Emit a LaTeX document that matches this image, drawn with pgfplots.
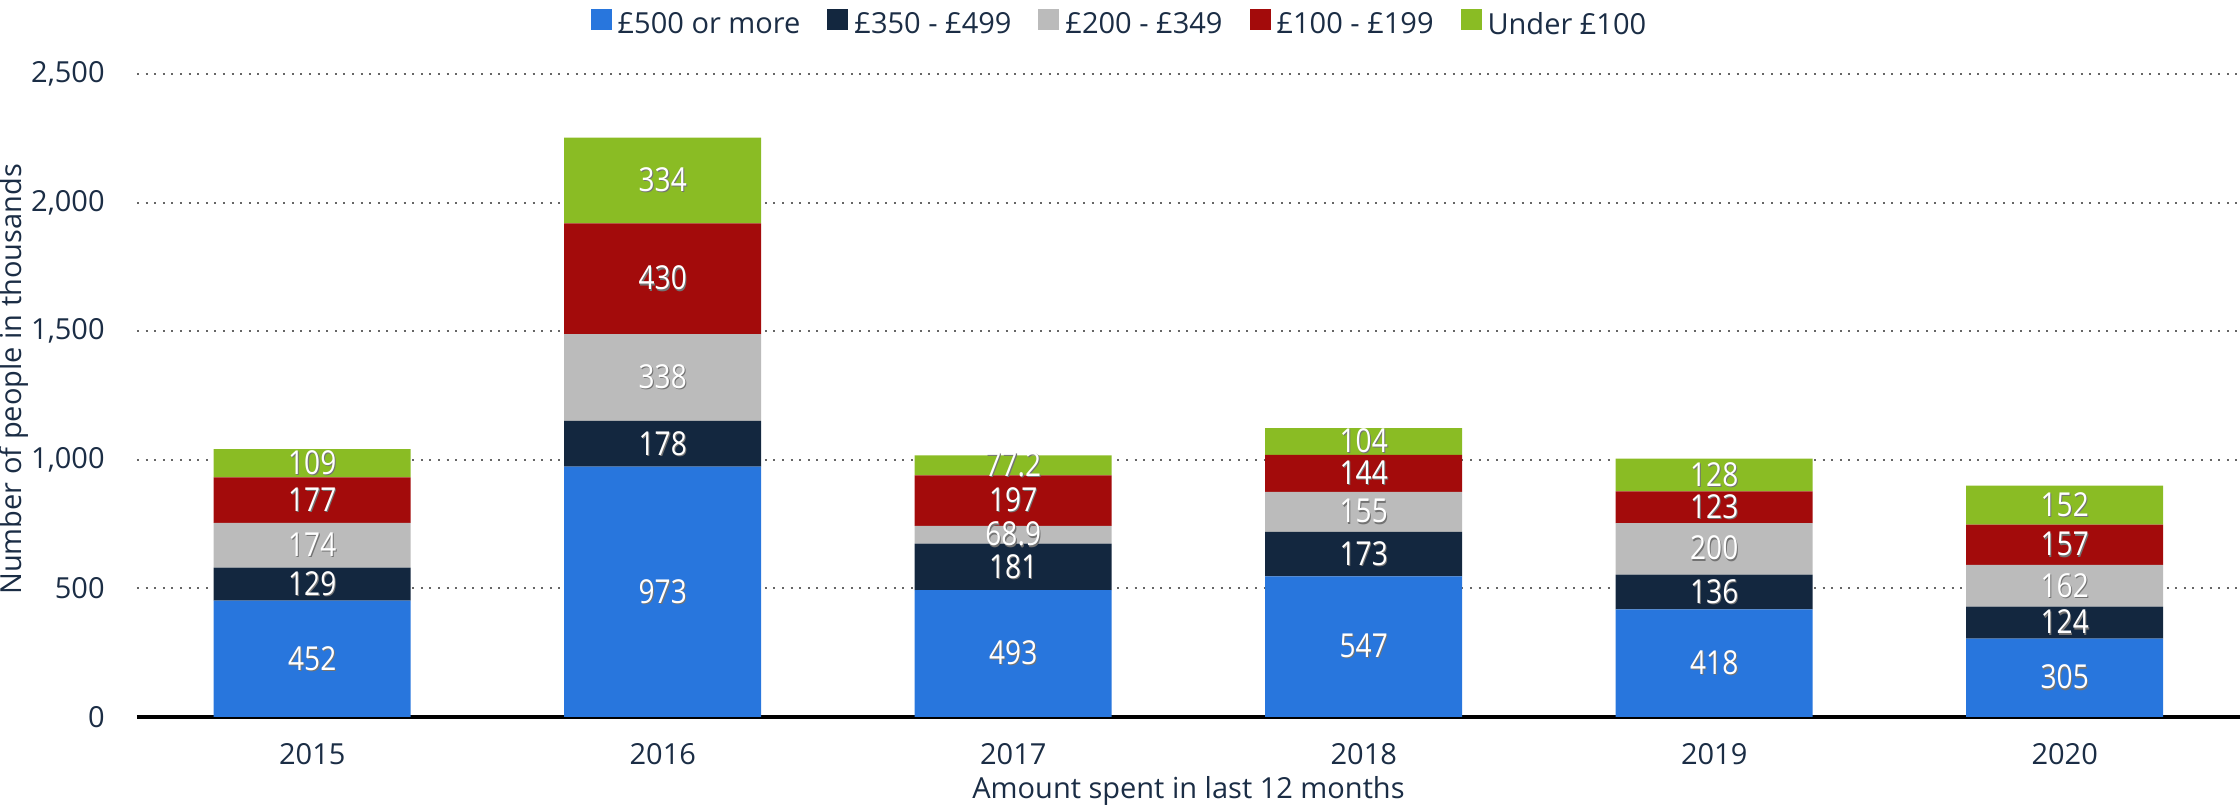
\documentclass[border=0pt]{standalone}
\usepackage{fontspec}
\setmainfont{Open Sans}
\usepackage{pgfplots}
\usepackage{pgfplotstable}
\pgfplotsset{compat=1.18}

\definecolor{cblue}{HTML}{2876DD}
\definecolor{cnavy}{HTML}{13273F}
\definecolor{cgray}{HTML}{BBBBBB}
\definecolor{cred}{HTML}{A30B0B}
\definecolor{cgreen}{HTML}{8ABC24}
\definecolor{txt}{HTML}{1B2D45}

% white value label with a small dark shadow
\newcommand{\lbl}[1]{\makebox[0pt]{\kern1.2pt\raisebox{-0.6pt}{\textcolor{black!55}{#1}}}\makebox[0pt]{\textcolor{white}{#1}}}

\pgfplotstableread{
x  a   b   c    d   e
0  452 129 174  177 109
1  973 178 338  430 334
2  493 181 68.9 197 77.2
3  547 173 155  144 104
4  418 136 200  123 128
5  305 124 162  157 152
}\spend

\begin{document}
\begin{tikzpicture}
\begin{axis}[
  scale only axis,
  width=1051.5pt, height=321.5pt,
  ybar stacked, bar width=98.5pt,
  xmin=-0.5, xmax=5.5, ymin=0, ymax=2500,
  enlargelimits=false,
  xtick=data,
  xticklabels={2015,2016,2017,2018,2019,2020},
  ytick={0,500,...,2500},
  scaled y ticks=false,
  /pgf/number format/.cd, 1000 sep={,}, assume math mode=true,
  /pgfplots/.cd,
  axis line style={draw=none},
  major tick length=0pt,
  tick label style={font=\fontsize{14.5}{16}\selectfont, text=txt},
  yticklabel style={inner sep=0pt, anchor=east, xshift=-16pt},
  xticklabel style={inner sep=0pt, anchor=north, yshift=-13pt},
  ymajorgrids,
  grid style={gray!80!black, line width=1pt, dash pattern=on 1pt off 3.3pt},
  extra y ticks={0},
  extra y tick labels={},
  extra y tick style={grid style={solid, black, line width=1.8pt}},
  xlabel={Amount spent in last 12 months},
  ylabel={Number of people in thousands},
  label style={font=\fontsize{14.5}{16}\selectfont, text=txt},
  xlabel style={at={(axis description cs:0.5,0)}, anchor=center, yshift=-37pt},
  ylabel style={at={(axis description cs:0,0.525)}, anchor=center, yshift=61.5pt},
  legend style={at={(0.4674,1)}, anchor=center, yshift=24.75pt, draw=none,
    font=\fontsize{14.5}{16}\selectfont, text=txt, inner sep=0pt,
    nodes={inner xsep=1.5pt}},
  legend columns=-1,
  legend image code/.code={\fill[#1] (0pt,-2.6pt) rectangle (10.5pt,7.9pt);},
  /tikz/every even column/.append style={column sep=12pt},
  /tikz/every odd column/.append style={column sep=1.5pt},
  point meta=rawy,
  nodes near coords={\scalebox{0.85}[1]{\lbl{\pgfmathprintnumber\pgfplotspointmeta}}},
  every node near coord/.append style={anchor=center, inner sep=0pt,
    font=\fontsize{16.5}{17}\selectfont},
]
\addplot[fill=cblue, draw=none] table[x=x, y=a] {\spend};
\addplot[fill=cnavy, draw=none] table[x=x, y=b] {\spend};
\addplot[fill=cgray, draw=none] table[x=x, y=c] {\spend};
\addplot[fill=cred, draw=none] table[x=x, y=d] {\spend};
\addplot[fill=cgreen, draw=none] table[x=x, y=e] {\spend};
\legend{£500 or more, £350 - £499, £200 - £349, £100 - £199, Under £100}
\end{axis}
\pgfresetboundingbox
\path (-68.5pt,-45.5pt) rectangle (1051.5pt,358.5pt);
\end{tikzpicture}
\end{document}
